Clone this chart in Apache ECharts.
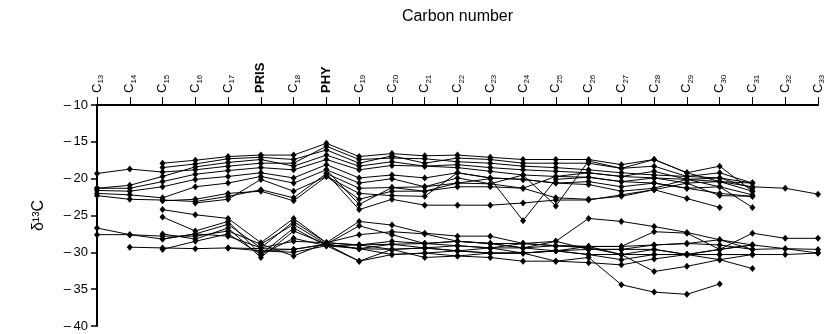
<!DOCTYPE html>
<html>
<head>
<meta charset="utf-8">
<script src="https://cdn.jsdelivr.net/npm/echarts@6/dist/echarts.min.js"></script>
<style>
  html, body { margin: 0; padding: 0; background: #fff; }
  #chart { width: 826px; height: 334px; }
</style>
</head>
<body>
<div id="chart"></div>
<script>
// x categories (carbon number)
var categories = ['C13', 'C14', 'C15', 'C16', 'C17', 'PRIS', 'C18', 'PHY', 'C19', 'C20', 'C21', 'C22',
    'C23', 'C24', 'C25', 'C26', 'C27', 'C28', 'C29', 'C30', 'C31', 'C32', 'C33'];
var yTicks = [-40, -35, -30, -25, -20, -15, -10];

// upper group of samples (delta 13C)
var u1  = [-19.3, -18.7, -19.1, -18.8, -18.3, -17.9, -17.9, -15.6, -17.4, -17.2, -17.3, -17.7, -17.9, -18.3, -18.5, -18.8, -19.2, -19.5, -19.7, -19.9, -20.6, null, null];
var u2  = [null, null, -17.9, -17.5, -17.0, -16.8, -16.8, -15.2, -17.0, -16.6, -16.9, -16.8, -17.1, -17.4, -17.4, -17.4, -18.1, -17.4, -19.2, -18.3, -21.7, null, null];
var u3  = [null, null, -18.5, -18.0, -17.3, -17.1, -17.4, -16.1, -17.9, -16.9, -17.9, -17.2, -17.4, -17.9, -17.9, -17.9, -18.6, -18.3, -19.7, -19.2, -20.6, null, null];
var u4  = [-21.3, -20.9, -19.7, -18.4, -17.8, -17.4, -18.3, -16.8, -18.3, -17.7, -18.3, -18.1, -18.5, -18.8, -19.0, -19.2, -19.7, -19.0, -20.1, -19.9, -21.3, null, null];
var u5  = [-21.3, -21.3, -20.4, -19.4, -18.9, -18.5, -18.8, -17.4, -18.8, -18.2, -18.3, -18.5, -19.0, -19.5, -19.7, -19.8, -20.4, -19.9, -20.6, -20.4, -21.1, -21.3, -22.1];
var u6  = [-21.6, -21.7, -21.1, -20.1, -19.7, -19.2, -19.9, -18.1, -19.9, -19.5, -19.9, -19.2, -19.9, -20.1, -20.6, -20.4, -21.1, -20.6, -21.3, -21.1, -22.2, null, null];
var u7  = [-22.0, -22.2, -22.6, -21.1, -20.6, -19.7, -20.6, -18.8, -20.6, -20.0, -21.1, -19.9, -20.7, -19.5, -23.7, -17.6, -18.6, -17.4, -19.2, -20.4, -21.7, null, null];
var u8  = [-22.3, -22.8, -22.9, -23.1, -22.4, -21.5, -22.6, -19.3, -21.3, -21.2, -21.7, -20.6, -20.0, -25.7, -20.1, -19.8, -20.4, -20.6, -21.3, -22.0, -22.4, null, null];
var u9  = [null, null, -23.0, -22.8, -22.0, -21.7, -23.0, -19.7, -22.8, -21.7, -21.7, -21.1, -21.1, -21.3, -22.6, -22.8, -22.4, -21.5, -22.7, -23.9, null, null, null];
var u10 = [null, null, null, -23.3, -22.8, -20.1, -21.7, -19.7, -22.0, -22.3, -22.4, -19.2, -19.9, -20.1, -20.6, -20.8, -21.7, -21.3, -20.1, -21.1, -23.9, null, null];
var u11 = [null, null, null, null, null, null, null, -19.3, -24.2, -22.8, -23.6, -23.6, -23.6, -23.3, -22.9, -22.9, -22.2, -21.5, -20.6, -22.3, -22.4, null, null];
var u12 = [null, null, null, null, null, null, null, -18.8, -23.5, -21.2, -21.1, -20.6, -20.7, -21.3, -19.7, -19.2, -19.7, -19.9, -20.1, -20.4, -20.6, null, null];

// lower group of samples
var l1  = [-26.7, -27.6, -28.2, -27.5, -26.2, -29.4, -25.8, -28.7, -25.8, -26.3, -27.4, -27.8, -27.8, -28.8, -28.5, -25.4, -25.8, -26.5, -27.3, -28.3, -29.0, null, null];
var l2  = [-27.6, -27.6, -27.8, -27.8, -27.1, -28.9, -26.2, -28.9, -26.4, -27.6, -28.8, -28.5, -28.8, -29.4, -29.1, -29.2, -29.2, -27.2, -27.4, -29.6, -27.4, -28.1, -28.1];
var l3  = [null, -29.3, -29.4, -29.5, -29.4, -29.8, -29.6, -28.9, -29.5, -29.6, -29.4, -29.8, -30.1, -30.1, -29.8, -29.6, -29.6, -29.0, -28.8, -29.0, -29.6, -29.5, -29.6];
var l4  = [null, null, -24.2, -24.9, -25.4, -28.7, -25.4, -28.7, -27.6, -27.2, -27.5, -28.5, -28.8, -28.8, -29.1, -29.4, -30.3, -29.6, -30.3, -29.6, -29.0, null, null];
var l5  = [null, null, -25.2, -27.1, -25.8, -30.3, -26.7, -29.1, -29.0, -28.5, -28.8, -29.1, -29.4, -29.4, -29.8, -30.3, -30.3, -30.3, -30.3, -30.3, -30.3, -30.3, -30.1];
var l6  = [null, null, -27.5, -28.2, -26.7, -30.7, -27.1, -28.9, -31.2, -30.3, -30.1, -30.5, -30.7, -31.2, -31.2, -31.4, -31.7, -30.9, -30.3, -31.0, -30.3, null, null];
var l7  = [null, null, -29.6, -28.5, -27.5, -30.3, -28.1, -29.1, -31.2, -29.6, -30.7, -30.5, -30.1, -30.1, -31.2, -30.7, -34.4, -35.4, -35.7, -34.3, null, null, null];
var l8  = [null, null, -28.2, -27.5, -27.8, -29.4, -28.5, -28.7, -29.0, -28.9, -29.4, -29.1, -29.4, -28.8, -29.1, -29.2, -30.3, -32.6, -31.9, -31.0, -32.2, null, null];
var l9  = [null, null, null, null, -29.4, null, -29.6, -28.9, -29.5, -28.9, -28.8, -28.5, -28.8, -29.4, -28.5, -29.6, -29.6, -29.6, -30.3, -29.6, -29.0, -29.5, -30.1];
var l10 = [null, null, null, null, null, -29.8, -30.0, -29.1, -29.5, -30.3, -30.1, -29.8, -30.1, -30.1, -29.8, -30.3, -31.0, -30.3, -30.3, -30.3, -30.3, null, null];
var l11 = [null, null, null, null, null, -28.9, -30.5, -28.7, -29.0, -29.6, -29.4, -29.8, -29.4, -30.1, -29.8, -29.2, -29.2, -29.0, -28.8, -28.3, -29.6, null, null];

var allSeries = [u1, u2, u3, u4, u5, u6, u7, u8, u9, u10, u11, u12,
    l1, l2, l3, l4, l5, l6, l7, l8, l9, l10, l11];

var series = [];
for (var i = 0; i < allSeries.length; i++) {
    series.push({
        type: 'line',
        data: allSeries[i],
        connectNulls: true,
        symbol: 'diamond',
        symbolSize: [6, 7],
        silent: true,
        animation: false,
        itemStyle: { color: '#000' },
        lineStyle: { color: '#000', width: 1 }
    });
}

var myChart = echarts.init(document.getElementById('chart'));
var option = {
    backgroundColor: '#fff',
    animation: false,
    textStyle: { fontFamily: 'Liberation Sans, Arial, sans-serif', color: '#000' },
    grid: { left: 97, right: 4, top: 105, bottom: 8 },
    xAxis: {
        type: 'category',
        position: 'top',
        data: categories,
        boundaryGap: false,
        name: 'Carbon number',
        nameLocation: 'middle',
        nameGap: 80,
        nameTextStyle: { fontSize: 16, color: '#000' },
        axisLine: { lineStyle: { color: '#000', width: 2 } },
        axisTick: { length: 8, lineStyle: { color: '#000', width: 1 } },
        axisLabel: {
            rotate: -90,
            margin: 12,
            interval: 0,
            color: '#000',
            formatter: function (v) {
                if (v.charAt(0) === 'C') {
                    return '{a|C}{s|' + v.slice(1) + '}';
                }
                return '{b|' + v + '}';
            },
            rich: {
                a: { fontSize: 13, lineHeight: 16, color: '#000' },
                s: { fontSize: 8, verticalAlign: 'bottom', lineHeight: 10, color: '#000' },
                b: { fontSize: 13, fontWeight: 'bold', lineHeight: 16, color: '#000' }
            }
        },
        splitLine: { show: false }
    },
    yAxis: {
        type: 'value',
        min: yTicks[0],
        max: yTicks[yTicks.length - 1],
        interval: 5,
        name: 'δ¹³C',
        nameLocation: 'middle',
        nameGap: 50,
        nameRotate: 90,
        nameTextStyle: { fontSize: 16, color: '#000' },
        axisLine: { show: true, lineStyle: { color: '#000', width: 2 } },
        axisTick: { show: true, length: 6, lineStyle: { color: '#000', width: 1.5 } },
        axisLabel: {
            color: '#000',
            fontSize: 13,
            margin: 9,
            formatter: function (v) { return '\u2013\u2009' + Math.abs(v); }
        },
        splitLine: { show: false }
    },
    series: series
};
myChart.setOption(option);
</script>
</body>
</html>
